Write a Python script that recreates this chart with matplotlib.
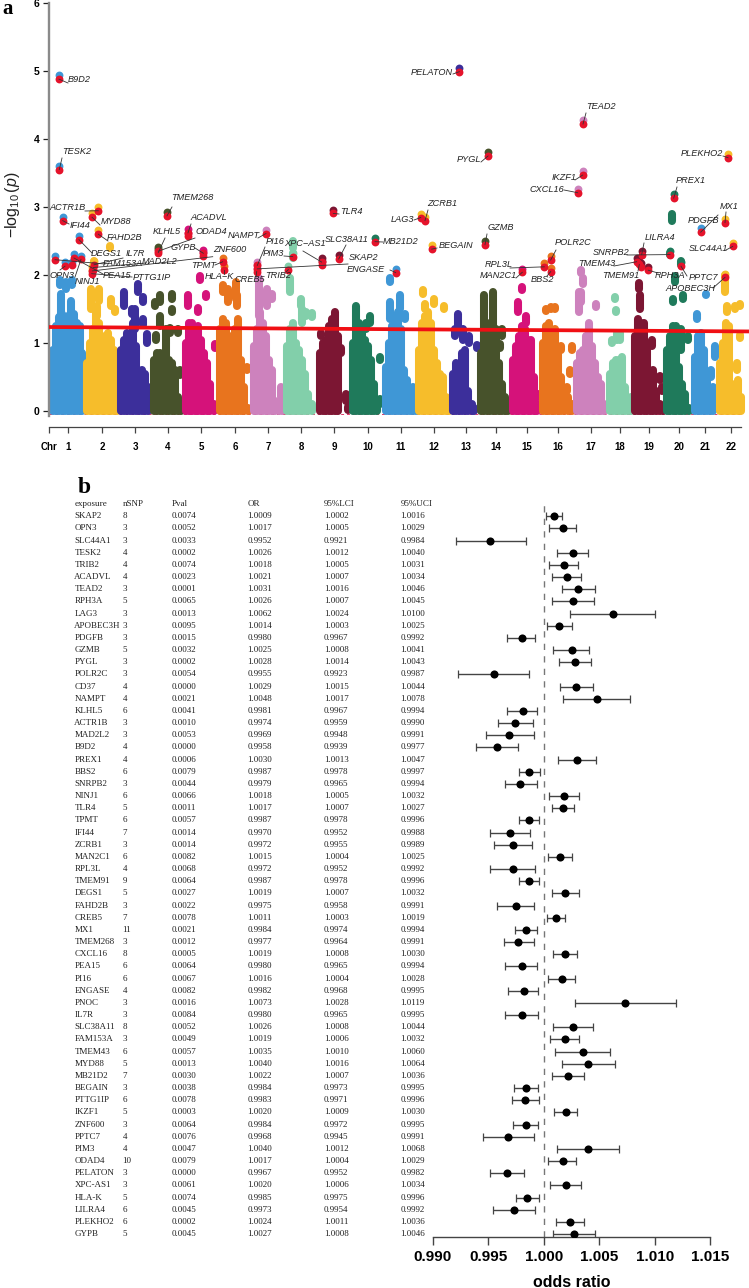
import matplotlib
matplotlib.use('Agg')
import matplotlib.pyplot as plt
from matplotlib.transforms import blended_transform_factory

plt.rcParams['mathtext.fontset'] = 'custom'
plt.rcParams['mathtext.rm'] = 'Liberation Sans'
plt.rcParams['mathtext.it'] = 'Liberation Sans:italic'
plt.rcParams['mathtext.bf'] = 'Liberation Sans:bold'

# ---- manhattan data: runs of SNPs per chromosome (position, lowest and highest -log10 p)
chr1_x = [53, 56, 59, 62, 65, 68, 71, 74, 77, 80, 82, 61, 71, 60, 66, 72]
chr1_lo = [0, 0, 0, 0, 0, 0, 0, 0, 0, 0, 0, 1.42, 1.42, 1.86, 1.8, 1.85]
chr1_hi = [0.9, 1.25, 1.38, 1.42, 1.3, 1.4, 1.38, 1.42, 1.3, 1.25, 0.85, 1.72, 1.62, 1.92, 1.9, 1.92]
chr2_x = [87, 90, 93, 96, 99, 102, 105, 108, 111, 114, 117, 91, 99, 111, 115, 97, 94, 110]
chr2_lo = [0, 0, 0, 0, 0, 0, 0, 0, 0, 0, 0, 1.5, 1.62, 1.55, 1.45, 1.4, 2.15, 2.4]
chr2_hi = [0.7, 1.0, 1.2, 1.45, 1.3, 0.95, 1.1, 1.15, 1.05, 0.9, 0.55, 1.8, 1.8, 1.65, 1.5, 1.55, 2.2, 2.42]
chr3_x = [121, 124, 127, 130, 133, 136, 139, 142, 145, 148, 124, 132, 138, 143, 143, 147, 135]
chr3_lo = [0, 0, 0, 0, 0, 0, 0, 0, 0, 0, 1.55, 1.42, 1.75, 1.6, 1.27, 1.0, 1.2]
chr3_hi = [0.9, 1.05, 1.15, 1.1, 1.3, 0.95, 0.55, 0.6, 0.55, 0.35, 1.75, 1.5, 1.87, 1.68, 1.35, 1.13, 1.5]
chr4_x = [154, 157, 160, 163, 166, 169, 172, 175, 178, 181, 160, 155, 172, 172, 160, 156, 170, 178, 166, 180]
chr4_lo = [0, 0, 0, 0, 0, 0, 0, 0, 0, 0, 1.6, 1.55, 1.65, 1.45, 1.25, 1.05, 1.15, 1.15, 1.0, 0.53]
chr4_hi = [0.75, 0.85, 0.85, 0.8, 1.0, 0.75, 0.7, 0.6, 0.2, 0.1, 1.7, 1.6, 1.72, 1.5, 1.4, 1.12, 1.22, 1.2, 1.2, 0.6]
chr5_x = [186, 189, 192, 195, 198, 201, 204, 207, 210, 214, 188, 198, 206, 200, 215]
chr5_lo = [0, 0, 0, 0, 0, 0, 0, 0, 0, 0, 1.55, 1.46, 1.68, 1.92, 0.93]
chr5_hi = [1.0, 1.3, 1.3, 1.15, 1.25, 1.05, 0.85, 0.7, 0.4, 0.1, 1.7, 1.52, 1.72, 1.98, 0.99]
chr6_x = [220, 223, 226, 229, 232, 235, 238, 241, 244, 248, 223, 228, 236, 237, 247]
chr6_lo = [0, 0, 0, 0, 0, 0, 0, 0, 0, 0, 1.75, 1.6, 1.65, 1.55, 0.6]
chr6_hi = [1.2, 1.35, 1.3, 1.1, 0.95, 1.2, 1.35, 0.75, 0.35, 0.05, 1.85, 1.8, 1.9, 1.7, 0.65]
chr7_x = [254, 257, 260, 263, 266, 269, 272, 275, 279, 282, 259, 267, 272, 281]
chr7_lo = [0, 0, 0, 0, 0, 0, 0, 0, 0, 0, 1.4, 1.55, 1.65, 0.2]
chr7_hi = [0.95, 1.2, 1.45, 1.3, 1.1, 0.75, 0.6, 0.15, 0.1, 0.3, 1.95, 1.8, 1.72, 0.35]
chr8_x = [287, 290, 293, 296, 299, 302, 305, 308, 312, 290, 301, 302, 312, 293, 293, 306]
chr8_lo = [0, 0, 0, 0, 0, 0, 0, 0, 0, 1.75, 1.55, 1.3, 1.38, 2.4, 2.25, 1.4]
chr8_hi = [0.95, 1.2, 1.3, 1.0, 0.9, 0.75, 0.55, 0.25, 0.1, 1.95, 1.65, 1.5, 1.44, 2.5, 2.32, 1.45]
chr9_x = [320, 323, 326, 329, 332, 335, 338, 341, 346, 348, 335, 321]
chr9_lo = [0, 0, 0, 0, 0, 0, 0, 0.85, 0.15, 0.02, 1.4, 1.1]
chr9_hi = [0.85, 1.0, 1.05, 1.25, 1.35, 1.4, 1.1, 0.92, 0.25, 0.06, 1.45, 1.15]
chr10_x = [353, 356, 359, 362, 365, 368, 371, 374, 377, 356, 366, 380, 380, 370]
chr10_lo = [0, 0, 0, 0, 0, 0, 0, 0, 0, 1.4, 1.2, 0.75, 0.1, 1.3]
chr10_hi = [1.0, 1.4, 1.3, 1.25, 1.05, 0.95, 0.75, 0.4, 0.15, 1.55, 1.3, 0.8, 0.18, 1.4]
chr11_x = [386, 389, 392, 395, 398, 401, 404, 407, 410, 413, 416, 390, 390, 400, 405]
chr11_lo = [0, 0, 0, 0, 0, 0, 0, 0, 0, 0, 0, 1.9, 1.35, 1.5, 1.35]
chr11_hi = [0.65, 1.0, 1.25, 1.4, 1.45, 1.2, 0.6, 0.45, 0.3, 0.35, 0.1, 1.95, 1.6, 1.7, 1.42]
chr12_x = [419, 422, 425, 428, 431, 434, 437, 440, 443, 446, 449, 423, 434, 444, 425]
chr12_lo = [0, 0, 0, 0, 0, 0, 0, 0, 0, 0, 0, 1.72, 1.58, 1.5, 1.5]
chr12_hi = [0.9, 1.3, 1.4, 1.45, 1.3, 0.9, 0.7, 0.55, 0.5, 0.2, 0.03, 1.78, 1.65, 1.55, 1.58]
chr13_x = [453, 456, 459, 462, 465, 468, 472, 458, 463, 455, 469, 474, 477]
chr13_lo = [0, 0, 0, 0, 0, 0, 0, 1.2, 1.05, 1.1, 1.0, 0.0, 0.93]
chr13_hi = [0.55, 0.7, 0.6, 0.85, 0.9, 0.3, 0.1, 1.42, 1.2, 1.2, 1.1, 0.05, 0.97]
chr14_x = [481, 484, 487, 490, 493, 496, 499, 502, 505, 508, 502, 500]
chr14_lo = [0, 0, 0, 0, 0, 0, 0, 0, 0, 0, 1.1, 0.93]
chr14_hi = [0.85, 1.7, 1.3, 1.1, 1.75, 1.2, 0.7, 0.4, 0.2, 0.15, 1.2, 0.98]
chr15_x = [513, 516, 519, 522, 525, 528, 531, 534, 537, 518, 522, 526, 538]
chr15_lo = [0, 0, 0, 0, 0, 0, 0, 0, 0, 1.45, 1.78, 1.3, 0.2]
chr15_hi = [0.75, 0.95, 1.1, 1.25, 1.2, 1.05, 1.05, 0.5, 0.1, 1.6, 1.82, 1.4, 0.25]
chr16_x = [543, 546, 549, 552, 555, 558, 561, 564, 568, 572, 546, 551, 555, 561, 572, 570, 567]
chr16_lo = [0, 0, 0, 0, 0, 0, 0, 0, 0, 0, 1.47, 1.5, 1.5, 0.9, 0.9, 0.55, 0.3]
chr16_hi = [1.0, 1.25, 1.3, 1.1, 1.2, 0.85, 0.5, 0.3, 0.2, 0.1, 1.5, 1.53, 1.53, 0.95, 0.95, 0.6, 0.35]
chr17_x = [577, 580, 583, 586, 589, 592, 595, 598, 601, 604, 581, 581, 583, 579, 596]
chr17_lo = [0, 0, 0, 0, 0, 0, 0, 0, 0, 0, 1.6, 2.03, 1.87, 1.45, 1.53]
chr17_hi = [0.7, 0.85, 0.9, 1.1, 1.3, 0.95, 0.7, 0.5, 0.4, 0.1, 1.75, 2.08, 1.95, 1.75, 1.58]
chr18_x = [610, 613, 616, 619, 622, 625, 628, 631, 615, 616, 617, 612, 620]
chr18_lo = [0, 0, 0, 0, 0, 0, 0, 0, 1.65, 1.45, 1.05, 1.0, 1.05]
chr18_hi = [0.55, 0.7, 0.75, 0.75, 0.8, 0.35, 0.1, 0.2, 1.68, 1.48, 1.15, 1.05, 1.15]
chr19_x = [635, 638, 641, 644, 647, 650, 653, 656, 660, 663, 639, 640, 652, 660, 662]
chr19_lo = [0, 0, 0, 0, 0, 0, 0, 0, 0, 0, 1.8, 1.5, 0.95, 0.45, 0.3]
chr19_hi = [1.1, 1.35, 1.3, 1.3, 1.0, 0.5, 0.6, 0.3, 0.1, 0.05, 1.88, 1.7, 1.05, 0.52, 0.35]
chr20_x = [667, 670, 673, 676, 679, 682, 685, 689, 673, 683, 675, 688, 672, 670, 681, 681]
chr20_lo = [0, 0, 0, 0, 0, 0, 0, 0, 1.6, 1.65, 1.9, 1.05, 2.8, 2.3, 2.15, 0.9]
chr20_hi = [0.9, 1.1, 1.25, 1.25, 0.65, 0.4, 0.25, 0.05, 1.65, 1.7, 1.98, 1.1, 2.9, 2.33, 2.2, 1.2]
chr21_x = [695, 698, 701, 704, 707, 710, 713, 697, 706, 715, 711]
chr21_lo = [0, 0, 0, 0, 0, 0, 0, 1.35, 1.7, 0.8, 0.5]
chr21_hi = [0.8, 1.1, 1.15, 0.9, 0.5, 0.2, 0.35, 1.42, 1.72, 0.95, 0.6]
chr22_x = [720, 723, 726, 729, 732, 735, 738, 741, 725, 727, 735, 740, 740, 737]
chr22_lo = [0, 0, 0, 0, 0, 0, 0, 0, 1.75, 1.45, 1.5, 1.55, 1.08, 0.6]
chr22_hi = [0.7, 1.0, 1.3, 1.25, 0.4, 0.3, 0.45, 0.2, 2.0, 1.55, 1.55, 1.58, 1.12, 0.7]

chr_runs = [(chr1_x, chr1_lo, chr1_hi), (chr2_x, chr2_lo, chr2_hi), (chr3_x, chr3_lo, chr3_hi),
            (chr4_x, chr4_lo, chr4_hi), (chr5_x, chr5_lo, chr5_hi), (chr6_x, chr6_lo, chr6_hi),
            (chr7_x, chr7_lo, chr7_hi), (chr8_x, chr8_lo, chr8_hi), (chr9_x, chr9_lo, chr9_hi),
            (chr10_x, chr10_lo, chr10_hi), (chr11_x, chr11_lo, chr11_hi), (chr12_x, chr12_lo, chr12_hi),
            (chr13_x, chr13_lo, chr13_hi), (chr14_x, chr14_lo, chr14_hi), (chr15_x, chr15_lo, chr15_hi),
            (chr16_x, chr16_lo, chr16_hi), (chr17_x, chr17_lo, chr17_hi), (chr18_x, chr18_lo, chr18_hi),
            (chr19_x, chr19_lo, chr19_hi), (chr20_x, chr20_lo, chr20_hi), (chr21_x, chr21_lo, chr21_hi),
            (chr22_x, chr22_lo, chr22_hi)]
chr_ticks = [68, 102, 135, 168, 201, 235, 268, 301, 334, 368, 401, 434, 466, 496, 527, 558, 591, 620, 649, 679, 705, 731]
chr_labels = [str(i) for i in range(1, 23)]
chr_colors = ['#3f97d6', '#f6bd2b', '#3c2f9b', '#47522b', '#d5127a', '#e8741e', '#cd82bd', '#82cfaa', '#7c1633', '#1f7a5b']

# significant genes
hit_names = ['B9D2', 'TESK2', 'ACTR1B', 'IFI44', 'MYD88', 'FAHD2B', 'DEGS1', 'OPN3', 'NINJ1', 'FAM153A',
             'PEA15', 'IL7R', 'MAD2L2', 'PTTG1IP', 'ZNF600', 'KLHL5', 'ODAD4', 'TMEM268', 'ACADVL', 'GYPB',
             'TPMT', 'HLA\u2212K', 'NAMPT', 'PI16', 'SKAP2', 'CREB5', 'PIM3', 'TRIB2', 'XPC\u2212AS1', 'SLC38A11',
             'TLR4', 'MB21D2', 'ENGASE', 'BEGAIN', 'LAG3', 'ZCRB1', 'PELATON', 'GZMB', 'PYGL', 'RPL3L',
             'MAN2C1', 'POLR2C', 'BBS2', 'TEAD2', 'IKZF1', 'CXCL16', 'LILRA4', 'TMEM43', 'TMEM91', 'RPH3A',
             'SNRPB2', 'PREX1', 'PPTC7', 'PDGFB', 'MX1', 'SLC44A1', 'PLEKHO2', 'APOBEC3H']
hit_chr = [1, 1, 2, 1, 2, 2, 1, 1, 1, 1,
           1, 2, 2, 2, 2, 4, 4, 4, 5, 5,
           6, 6, 7, 7, 7, 7, 8, 8, 9, 9,
           9, 10, 11, 12, 12, 12, 13, 14, 14, 16,
           15, 16, 16, 17, 17, 17, 19, 19, 19, 19,
           20, 20, 20, 21, 22, 22, 22, 22]
hit_pos = [59, 59.3, 98.3, 62.7, 92, 98.3, 79, 65, 81, 55,
           74, 94, 93.3, 91.7, 92.3, 158.3, 158.3, 167, 188, 203.3,
           222.7, 224, 266, 257.3, 257.3, 256.7, 292.7, 288.3, 321.7, 338.7,
           333.3, 375, 395.7, 431.7, 420.7, 425, 459.3, 485, 488, 544.3,
           522.3, 550.7, 550.7, 583, 582.7, 577.7, 641.7, 636.7, 639.3, 648.3,
           670, 673.7, 681, 700.7, 725, 732.7, 728, 725]
hit_logp = [4.88, 3.55, 2.945, 2.80, 2.85, 2.60, 2.52, 2.13, 2.23, 2.225,
            2.25, 2.15, 2.11, 2.02, 2.06, 2.33, 2.35, 2.87, 2.62, 2.32,
            2.195, 2.08, 2.61, 2.14, 2.09, 2.05, 2.27, 2.08, 2.19, 2.235,
            2.905, 2.49, 2.035, 2.38, 2.845, 2.80, 4.99, 2.445, 3.75, 2.12,
            2.04, 2.22, 2.05, 4.22, 3.47, 3.21, 2.30, 2.195, 2.155, 2.07,
            2.30, 3.13, 2.13, 2.63, 2.77, 2.42, 3.725, 1.965]
# hits without a label of their own
extra_chr = [1, 9, 5, 5, 19, 2]
extra_pos = [72.3, 321.7, 203.3, 188, 641, 93]
extra_logp = [2.14, 2.15, 2.28, 2.57, 2.12, 2.08]

# where the gene names sit (pixels in the image) and where their leader ends
label_x = [79, 77, 68, 80, 116, 125, 106, 61.7, 87, 123,
           116.7, 135, 160, 152, 229.3, 166.7, 211, 192, 209, 183.3,
           203.3, 219.3, 243.3, 275, 364, 250, 273, 278.3, 304.7, 346.7,
           351.7, 400.7, 366, 455.7, 402.7, 442.7, 431.7, 501, 469, 498.3,
           498.3, 572.7, 542.3, 600.7, 564.3, 547.3, 660, 596.7, 621, 670,
           611, 691, 703.3, 703.3, 729, 708.3, 701.7, 690]
label_y = [80, 152, 208, 225, 221, 238, 253, 275, 282, 264,
           275.7, 253, 262, 277, 249.3, 231, 232, 198, 217, 247.7,
           265, 276.7, 235, 241.7, 258, 279, 253, 276, 243.3, 240,
           211, 241.7, 270, 246, 219.7, 203, 72.3, 227.3, 159, 264.3,
           276, 242.7, 279, 106.7, 178, 189.3, 237.3, 264, 275, 275,
           252.7, 180.3, 277.3, 220.3, 206.3, 248.7, 153, 288.3]
lead_x = [68, 62, 85, 69, 100, 108, 92, 60, 75, 105,
          103, 123, 146, 132, 212.7, 165, 195, 172, 191, 195,
          215, 224, 258, 265, 348, 256, 284, 286, 303, 346,
          339, 383, 390, 437, 414, 428, 453, 487, 481, 510,
          516, 556, 547, 586, 575, 564, 644, 614, 638, 658,
          627, 677, 687, 718, 726, 726, 723, 713]
lead_y = [83, 158, 211, 224, 225, 241, 253, 270, 277, 264,
          274, 258, 263, 277, 256.7, 238, 238, 207, 224, 248,
          265, 274, 238, 247, 264, 277, 256, 272, 251, 245,
          214, 242, 270, 248, 220, 210, 74, 234, 162, 268,
          278, 250, 276, 113, 180, 190, 243, 266, 271, 273,
          255, 187, 276, 215, 212, 250, 156, 288]

red_line_x = [49, 749]
red_line_y = [1.235, 1.17]

# ---- forest plot / table data
exposure = ['SKAP2', 'OPN3', 'SLC44A1', 'TESK2', 'TRIB2', 'ACADVL', 'TEAD2', 'RPH3A', 'LAG3', 'APOBEC3H',
            'PDGFB', 'GZMB', 'PYGL', 'POLR2C', 'CD37', 'NAMPT', 'KLHL5', 'ACTR1B', 'MAD2L2', 'B9D2',
            'PREX1', 'BBS2', 'SNRPB2', 'NINJ1', 'TLR4', 'TPMT', 'IFI44', 'ZCRB1', 'MAN2C1', 'RPL3L',
            'TMEM91', 'DEGS1', 'FAHD2B', 'CREB5', 'MX1', 'TMEM268', 'CXCL16', 'PEA15', 'PI16', 'ENGASE',
            'PNOC', 'IL7R', 'SLC38A11', 'FAM153A', 'TMEM43', 'MYD88', 'MB21D2', 'BEGAIN', 'PTTG1IP', 'IKZF1',
            'ZNF600', 'PPTC7', 'PIM3', 'ODAD4', 'PELATON', 'XPC-AS1', 'HLA-K', 'LILRA4', 'PLEKHO2', 'GYPB']
nsnp = ['8', '3', '3', '4', '4', '4', '3', '5', '3', '3',
        '3', '5', '3', '3', '4', '4', '6', '3', '3', '4',
        '4', '6', '3', '6', '5', '6', '7', '3', '6', '4',
        '9', '5', '3', '7', '11', '3', '8', '6', '6', '4',
        '3', '3', '8', '3', '6', '5', '7', '3', '6', '5',
        '3', '4', '4', '10', '3', '3', '5', '6', '6', '5']
pval = ['0.0074', '0.0052', '0.0033', '0.0002', '0.0074', '0.0023', '0.0001', '0.0065', '0.0013', '0.0095',
        '0.0015', '0.0032', '0.0002', '0.0054', '0.0000', '0.0021', '0.0041', '0.0010', '0.0053', '0.0000',
        '0.0006', '0.0079', '0.0044', '0.0066', '0.0011', '0.0057', '0.0014', '0.0014', '0.0082', '0.0068',
        '0.0064', '0.0027', '0.0022', '0.0078', '0.0021', '0.0012', '0.0005', '0.0064', '0.0067', '0.0082',
        '0.0016', '0.0084', '0.0052', '0.0049', '0.0057', '0.0013', '0.0030', '0.0038', '0.0078', '0.0003',
        '0.0064', '0.0076', '0.0047', '0.0079', '0.0000', '0.0061', '0.0074', '0.0045', '0.0002', '0.0045']
odds = [1.0009, 1.0017, 0.9952, 1.0026, 1.0018, 1.0021, 1.0031, 1.0026, 1.0062, 1.0014,
        0.9980, 1.0025, 1.0028, 0.9955, 1.0029, 1.0048, 0.9981, 0.9974, 0.9969, 0.9958,
        1.0030, 0.9987, 0.9979, 1.0018, 1.0017, 0.9987, 0.9970, 0.9972, 1.0015, 0.9972,
        0.9987, 1.0019, 0.9975, 1.0011, 0.9984, 0.9977, 1.0019, 0.9980, 1.0016, 0.9982,
        1.0073, 0.9980, 1.0026, 1.0019, 1.0035, 1.0040, 1.0022, 0.9984, 0.9983, 1.0020,
        0.9984, 0.9968, 1.0040, 1.0017, 0.9967, 1.0020, 0.9985, 0.9973, 1.0024, 1.0027]
lci = [1.0002, 1.0005, 0.9921, 1.0012, 1.0005, 1.0007, 1.0016, 1.0007, 1.0024, 1.0003,
       0.9967, 1.0008, 1.0014, 0.9923, 1.0015, 1.0017, 0.9967, 0.9959, 0.9948, 0.9939,
       1.0013, 0.9978, 0.9965, 1.0005, 1.0007, 0.9978, 0.9952, 0.9955, 1.0004, 0.9952,
       0.9978, 1.0007, 0.9958, 1.0003, 0.9974, 0.9964, 1.0008, 0.9965, 1.0004, 0.9968,
       1.0028, 0.9965, 1.0008, 1.0006, 1.0010, 1.0016, 1.0007, 0.9973, 0.9971, 1.0009,
       0.9972, 0.9945, 1.0012, 1.0004, 0.9952, 1.0006, 0.9975, 0.9954, 1.0011, 1.0008]
uci = [1.0016, 1.0029, 0.9984, 1.0040, 1.0031, 1.0034, 1.0046, 1.0045, 1.0100, 1.0025,
       0.9992, 1.0041, 1.0043, 0.9987, 1.0044, 1.0078, 0.9994, 0.9990, 0.9991, 0.9977,
       1.0047, 0.9997, 0.9994, 1.0032, 1.0027, 0.9996, 0.9988, 0.9989, 1.0025, 0.9992,
       0.9996, 1.0032, 0.9991, 1.0019, 0.9994, 0.9991, 1.0030, 0.9994, 1.0028, 0.9995,
       1.0119, 0.9995, 1.0044, 1.0032, 1.0060, 1.0064, 1.0036, 0.9995, 0.9996, 1.0030,
       0.9995, 0.9991, 1.0068, 1.0029, 0.9982, 1.0034, 0.9996, 0.9992, 1.0036, 1.0046]
or_ticks = [0.990, 0.995, 1.000, 1.005, 1.010, 1.015]

W, H = 749, 1288
sans = 'Liberation Sans'
serif = 'Liberation Serif'
RED = '#e5132b'


def axes_box(x0, x1, y0, y1):
    # pixel box -> figure fractions
    return [x0 / W, 1 - y1 / H, (x1 - x0) / W, (y1 - y0) / H]


def py_to_logp(py):
    return (411 - py) / 68.0


fig = plt.figure(figsize=(W / 100, H / 100), dpi=100)

# ---- panel a
ax = fig.add_axes(axes_box(49, 749, 3, 427))
ax.set_xlim(49, 749)
ax.set_ylim(py_to_logp(427), 6)
ax.patch.set_alpha(0)

ax.plot([49, 741], [-0.05, -0.05], color='#e03a6a', lw=0.7, ls=(0, (3, 3)), zorder=1)
for i, (xs, lows, highs) in enumerate(chr_runs):
    col = chr_colors[i % 10]
    for x, lo, hi in zip(xs, lows, highs):
        ax.plot([x, x], [lo, hi], color=col, lw=5.8, solid_capstyle='round', zorder=2)

ax.plot(red_line_x, red_line_y, color='#f00f14', lw=2.7, zorder=3, solid_capstyle='butt')

for c, x, y in zip(hit_chr + extra_chr, hit_pos + extra_pos, hit_logp + extra_logp):
    ax.scatter([x], [y + 0.055], s=32, color=chr_colors[(c - 1) % 10], lw=0, zorder=4)
ax.scatter(hit_pos + extra_pos, hit_logp + extra_logp, s=32, color=RED, lw=0, zorder=5)

for name, x, y, lx, ly, ex, ey in zip(hit_names, hit_pos, hit_logp, label_x, label_y, lead_x, lead_y):
    ax.plot([x, ex], [y, py_to_logp(ey)], color='#333333', lw=0.6, zorder=6)
    ax.text(lx, py_to_logp(ly), name, fontsize=6.6, family=sans, style='italic', color='#222222',
            ha='center', va='center', zorder=7)

for s in ['top', 'right']:
    ax.spines[s].set_visible(False)
ax.spines['left'].set_color('#8a8a8a')
ax.spines['left'].set_linewidth(1.7)
ax.spines['left'].set_bounds(-0.08, 6)
ax.spines['bottom'].set_color('#444444')
ax.spines['bottom'].set_linewidth(0.9)
ax.spines['bottom'].set_bounds(49, 741)

ax.set_yticks(range(7))
ax.set_yticklabels([str(i) for i in range(7)], fontsize=7.5, family=sans, fontweight='bold')
ax.tick_params(axis='y', length=4, width=0.9, color='#222222', pad=3)
ax.set_xticks([49] + chr_ticks)
ax.set_xticklabels([''] + chr_labels, fontsize=7, family=sans, fontweight='bold')
ax.tick_params(axis='x', length=4, width=0.9, color='#444444', pad=7)
ax.text(49, py_to_logp(447), 'Chr', fontsize=7, family=sans, fontweight='bold', ha='center', va='center')
fig.text(13 / W, 1 - 205 / H, r'$-\log_{10}(p)$', fontsize=11.5, rotation=90, ha='center', va='center', color='#222222')
fig.text(8 / W, 1 - 9 / H, 'a', fontsize=15, family=serif, fontweight='bold', ha='center', va='center')

# ---- panel b
ax2 = fig.add_axes(axes_box(432.7, 710.3, 500, 1237.3))
row_h = (1234 - 516.3) / 59
ax2.set_xlim(0.990, 1.015)
ax2.set_ylim((1237.3 - 516.3) / row_h, (500 - 516.3) / row_h)
ax2.patch.set_alpha(0)

ax2.axvline(1.0, color='#777777', lw=1.0, ls=(0, (4.5, 4.5)), zorder=1)
rows = list(range(len(exposure)))
ax2.errorbar(odds, rows, xerr=[[o - l for o, l in zip(odds, lci)], [u - o for o, u in zip(odds, uci)]],
             fmt='none', ecolor='#444444', elinewidth=1.0, capsize=2.6, capthick=0.9, zorder=2)
ax2.scatter(odds, rows, s=34, color='black', lw=0, zorder=3)

for s in ['top', 'right', 'left']:
    ax2.spines[s].set_visible(False)
ax2.spines['bottom'].set_color('#444444')
ax2.spines['bottom'].set_linewidth(1.0)
ax2.set_yticks([])
ax2.set_xticks(or_ticks)
ax2.set_xticklabels(['%.3f' % t for t in or_ticks], fontsize=11, family=sans, fontweight='bold')
ax2.tick_params(axis='x', length=5.5, width=1.0, color='#444444', pad=3.5)
ax2.text(1.00253, 1 - 1282.5 / H, 'odds ratio', transform=blended_transform_factory(ax2.transData, fig.transFigure),
         fontsize=11.5, family=sans, fontweight='bold', ha='center', va='center')

tr = blended_transform_factory(fig.transFigure, ax2.transData)
col_x = [74.3, 122.7, 171.7, 247.7, 324, 400.7]
headers = ['exposure', 'nSNP', 'Pval', 'OR', '95%LCI', '95%UCI']
for cx, head in zip(col_x, headers):
    ax2.text(cx / W, -1, head, transform=tr, fontsize=6.5, family=serif, color='#222222', va='center', clip_on=False)
for r in rows:
    cols = [exposure[r], nsnp[r], pval[r], '%.4f' % odds[r], '%.4f' % lci[r], '%.4f' % uci[r]]
    for cx, val in zip(col_x, cols):
        ax2.text(cx / W, r, val, transform=tr, fontsize=6.5, family=serif, color='#222222', va='center', clip_on=False)

fig.text(84 / W, 1 - 488 / H, 'b', fontsize=17, family=serif, fontweight='bold', ha='center', va='center')

fig.savefig('out.png', dpi=100)
